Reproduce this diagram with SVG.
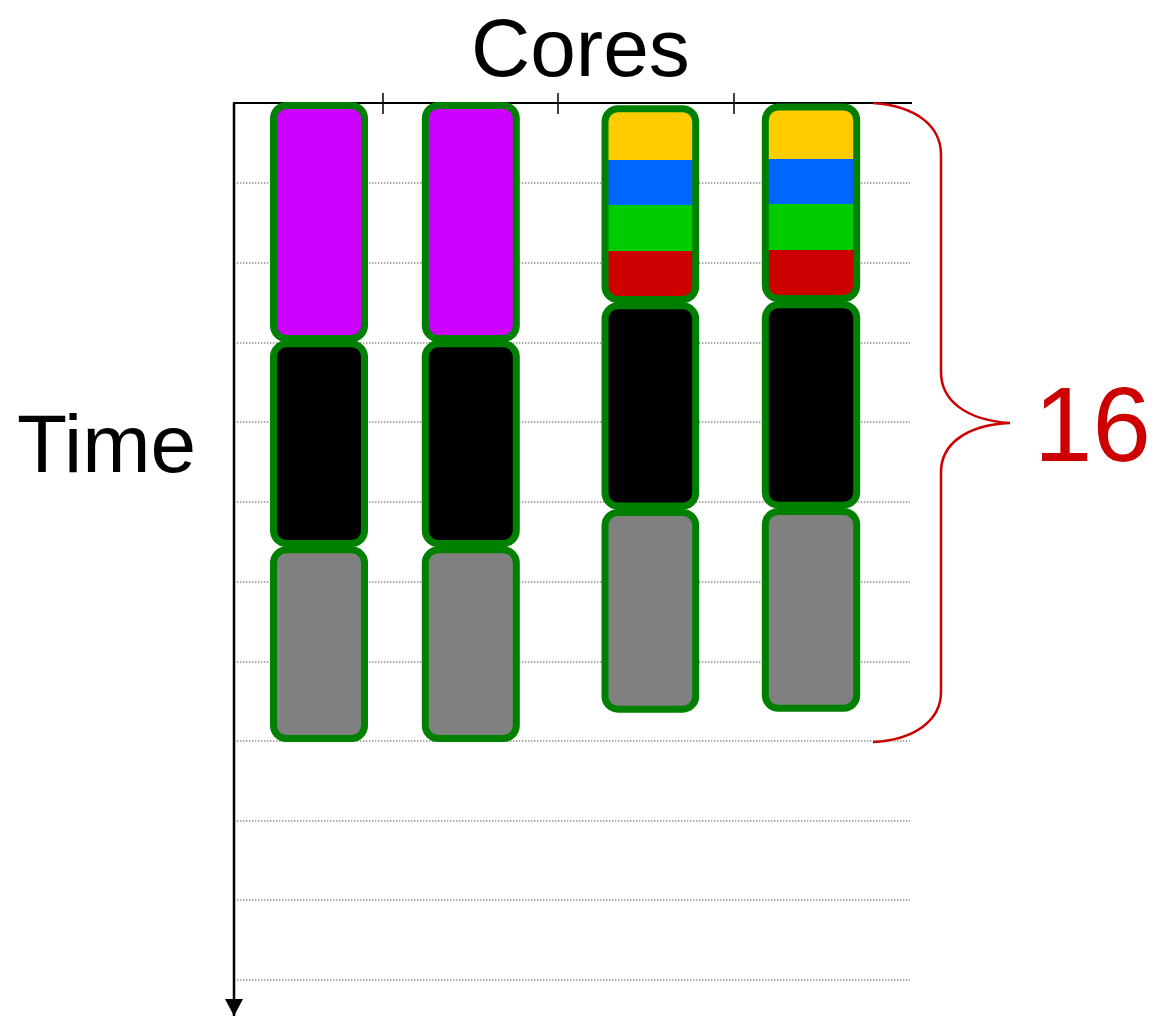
<svg xmlns="http://www.w3.org/2000/svg" width="1167" height="1017" viewBox="0 0 1167 1017">
<style>
.grid{stroke:#8a8a8a;stroke-width:1.4;stroke-dasharray:1.4 1.6;fill:none}
.axis{stroke:#000;fill:none}
.blk{stroke:#008000;stroke-width:7}
.frame{stroke:#008000;stroke-width:7;fill:none}
.lbl{font-family:"Liberation Sans",Arial,sans-serif;fill:#000}
</style>
<defs>
<marker id="arr" markerWidth="18" markerHeight="18" refX="17" refY="9" orient="auto" markerUnits="userSpaceOnUse" viewBox="0 0 18 18">
<path d="M0,0 L17,9 L0,18 Z" fill="#000"/>
</marker>
<clipPath id="c3"><rect x="605" y="108.7" width="90.7" height="190.8" rx="13"/></clipPath>
<clipPath id="c4"><rect x="765.3" y="107" width="91.4" height="191.5" rx="13"/></clipPath>
</defs>
<rect width="1167" height="1017" fill="#fff"/>
<g id="grid">
<line class="grid" x1="234" y1="183" x2="910" y2="183"/>
<line class="grid" x1="234" y1="263" x2="910" y2="263"/>
<line class="grid" x1="234" y1="343" x2="910" y2="343"/>
<line class="grid" x1="234" y1="422" x2="910" y2="422"/>
<line class="grid" x1="234" y1="502" x2="910" y2="502"/>
<line class="grid" x1="234" y1="582" x2="910" y2="582"/>
<line class="grid" x1="234" y1="662" x2="910" y2="662"/>
<line class="grid" x1="234" y1="741" x2="910" y2="741"/>
<line class="grid" x1="234" y1="821" x2="910" y2="821"/>
<line class="grid" x1="234" y1="900" x2="910" y2="900"/>
<line class="grid" x1="234" y1="980" x2="910" y2="980"/>
</g>
<g id="axes">
<line class="axis" x1="233" y1="103" x2="912" y2="103" stroke-width="2"/>
<line class="axis" x1="234" y1="103" x2="234" y2="1016" stroke-width="2.5" marker-end="url(#arr)"/>
<line class="axis" x1="383" y1="93" x2="383" y2="114" stroke-width="1.5"/>
<line class="axis" x1="558" y1="93" x2="558" y2="114" stroke-width="1.5"/>
<line class="axis" x1="734" y1="93" x2="734" y2="114" stroke-width="1.5"/>
</g>
<g id="core1">
<rect class="blk" x="273.5" y="105.5" width="91" height="233" rx="13" fill="#cc00ff"/>
<rect class="blk" x="273.5" y="343.8" width="91" height="199.7" rx="13" fill="#000"/>
<rect class="blk" x="273.5" y="549.8" width="91" height="188.7" rx="13" fill="#808080"/>
</g>
<g id="core2">
<rect class="blk" x="425.3" y="105.5" width="91" height="233" rx="13" fill="#cc00ff"/>
<rect class="blk" x="425.3" y="343.8" width="91" height="199.7" rx="13" fill="#000"/>
<rect class="blk" x="425.3" y="549.8" width="91" height="188.7" rx="13" fill="#808080"/>
</g>
<g id="core3">
<g clip-path="url(#c3)">
<rect x="600" y="100" width="100" height="60" fill="#ffcc00"/>
<rect x="600" y="160" width="100" height="45" fill="#0066ff"/>
<rect x="600" y="205" width="100" height="46" fill="#00cc00"/>
<rect x="600" y="251" width="100" height="55" fill="#cc0000"/>
</g>
<rect class="frame" x="605" y="108.7" width="90.7" height="190.8" rx="13"/>
<rect class="blk" x="605" y="305.8" width="90.7" height="200.2" rx="13" fill="#000"/>
<rect class="blk" x="605" y="512.5" width="90.7" height="196.7" rx="13" fill="#808080"/>
</g>
<g id="core4">
<g clip-path="url(#c4)">
<rect x="760" y="100" width="100" height="59" fill="#ffcc00"/>
<rect x="760" y="159" width="100" height="45" fill="#0066ff"/>
<rect x="760" y="204" width="100" height="46" fill="#00cc00"/>
<rect x="760" y="250" width="100" height="55" fill="#cc0000"/>
</g>
<rect class="frame" x="765.3" y="107" width="91.4" height="191.5" rx="13"/>
<rect class="blk" x="765.3" y="304.8" width="91.4" height="200.4" rx="13" fill="#000"/>
<rect class="blk" x="765.3" y="511.5" width="91.4" height="196.8" rx="13" fill="#808080"/>
</g>
<g id="brace">
<path d="M873,103 C915,106 941,125 941,155 L941,372 C941,400 965,420 1010,423 C965,425 941,445 941,472 L941,692 C941,720 915,740 873,742" fill="none" stroke="#cc0000" stroke-width="2.5"/>
<text x="1034" y="461" font-family="Liberation Sans,Arial,sans-serif" font-size="105" fill="#cc0000">16</text>
</g>
<g id="labels">
<text class="lbl" x="471" y="76" font-size="82">Cores</text>
<text class="lbl" x="17" y="472" font-size="82">Time</text>
</g>
</svg>
